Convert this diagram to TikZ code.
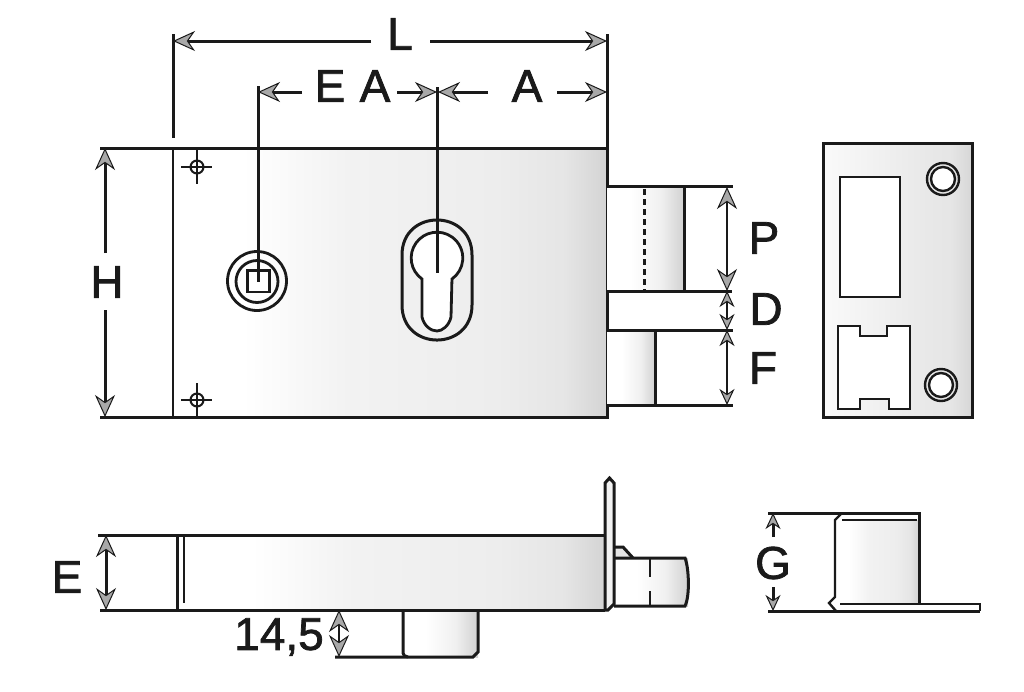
\documentclass[tikz,border=0pt]{standalone}
\usepackage{fontspec}
\setmainfont[FakeBold=1.6]{Liberation Sans}
\usetikzlibrary{arrows.meta}
\definecolor{ink}{HTML}{1A1A1A}
\definecolor{headgray}{HTML}{A8A8A8}
\pgfdeclarehorizontalshading{bodyshade}{100bp}{color(0bp)=(white); color(25bp)=(white); color(33bp)=(white); color(45bp)=(black!5); color(62bp)=(black!7); color(70bp)=(black!10); color(75bp)=(black!17); color(100bp)=(black!17)}
\pgfdeclarehorizontalshading{boltshade}{100bp}{color(0bp)=(white); color(25bp)=(white); color(40bp)=(white); color(60bp)=(black!6); color(75bp)=(black!18); color(100bp)=(black!18)}
\pgfdeclarehorizontalshading{plateshade}{100bp}{color(0bp)=(white); color(25bp)=(black!2); color(40bp)=(black!5); color(60bp)=(black!9); color(68bp)=(black!10); color(75bp)=(black!16); color(100bp)=(black!16)}
\tikzset{
  big/.tip={Stealth[length=22pt,width=20pt,inset=7pt,fill=headgray,line width=1pt]},
  small/.tip={Stealth[length=16pt,width=15pt,inset=5pt,fill=headgray,line width=1pt]},
  obj/.style={draw=ink,line width=3pt,line join=miter},
  fine/.style={draw=ink,line width=2.4pt},
  dimline/.style={draw=ink,line width=3pt},
  lab/.style={text=ink,font=\fontsize{46}{50}\selectfont,inner sep=0pt},
  hole/.style={draw=ink,line width=2.8pt,fill=white},
}
\begin{document}
\begin{tikzpicture}[x=1pt,y=-1pt]
\useasboundingbox (0,0) rectangle (1024,691);
% named points
\coordinate (LtickA) at (173,34); \coordinate (LtickB) at (173,138);
\coordinate (RtickA) at (607,34); \coordinate (RtickB) at (607,148);
\coordinate (Ltip) at (173,41); \coordinate (Ltail) at (371,41);
\coordinate (Rtip) at (607,41); \coordinate (Rtail) at (430,41);
\coordinate (EAlt) at (258,92); \coordinate (EAla) at (302,92);
\coordinate (EArt) at (437,92); \coordinate (EAra) at (397,92);
\coordinate (Alt) at (438,92); \coordinate (Ala) at (488,92);
\coordinate (Art) at (607,92); \coordinate (Ara) at (557,92);
\coordinate (KeyA) at (258.5,86); \coordinate (KeyB) at (258.5,282);
\coordinate (CylA) at (437,87); \coordinate (CylB) at (437,273);
\coordinate (Htop) at (105,148); \coordinate (Hup) at (105,253);
\coordinate (Hbot) at (105,417); \coordinate (Hdn) at (105,310);
% main body
\path[shading=bodyshade] (173,148) rectangle (607,417);
\draw[fine] (173,148) -- (173,417);
\draw[obj] (100,148) -- (607,148) -- (607,417) -- (100,417);
% bolts
\path[shading=boltshade] (607,186) rectangle (684,291);
\path[shading=boltshade] (607,330) rectangle (655,405);
\draw[obj] (607,186.5) -- (733,186.5);
\draw[obj] (607,291) -- (732,291);
\draw[obj] (684,186.5) -- (684,291);
\draw[obj] (607,330) -- (733,330);
\draw[obj] (607,405) -- (733,405);
\draw[obj] (655,330) -- (655,405);
\draw[draw=ink,line width=2.8pt,dash pattern=on 6pt off 4pt] (644.5,189) -- (644.5,291);
% crosshairs
\foreach \nm/\yy in {topc/167,botc/400}{
  \node[circle,draw=ink,line width=2pt,minimum size=13pt,inner sep=0pt] (\nm) at (197,\yy) {};
  \draw[fine] (181,\yy) -- (212,\yy);
  \draw[fine] (197,\yy-17) -- (197,\yy+17);
}
% key
\draw[hole,fill=none] (257,281) circle[radius=29.5];
\draw[hole,fill=none] (257,281.5) circle[radius=21];
\draw[hole] (247.5,270.5) rectangle (269.5,292);
% cylinder
\draw[obj] (402,255) .. controls (402,208.3) and (472,208.3) .. (472,255) -- (472,305) .. controls (472,351.7) and (402,351.7) .. (402,305) -- cycle;
\draw[hole] (422,279) arc[start angle=125.5,end angle=414.5,radius=25.8] -- (451,317) .. controls (449,326) and (442,331) .. (437,331) .. controls (431,331) and (424,326) .. (422,317) -- cycle;
% dimension lines top
\draw[dimline] (LtickA) -- (LtickB);
\draw[dimline] (RtickA) -- (RtickB);
\draw[dimline,-{big}] (Ltail) -- (Ltip);
\draw[dimline,-{big}] (Rtail) -- (Rtip);
\draw[dimline] (KeyA) -- (KeyB);
\draw[dimline] (CylA) -- (CylB);
\draw[dimline,-{big}] (EAla) -- (EAlt);
\draw[dimline,-{big}] (EAra) -- (EArt);
\draw[dimline,-{big}] (Ala) -- (Alt);
\draw[dimline,-{big}] (Ara) -- (Art);
\draw[dimline,-{big}] (Hup) -- (Htop);
\draw[dimline,-{big}] (Hdn) -- (Hbot);
\node[lab] (lblL) at (400,34) {L};
\node[lab] (lblE) at (330,86) {E};
\node[lab] (lblA) at (375,86) {A};
\node[lab] (lblB) at (527,86) {A};
\node[lab] (lblH) at (107,282) {H};
% right dims
\coordinate (Pa) at (727,187); \coordinate (Pb) at (727,291);
\coordinate (Fa) at (727,330); \coordinate (Fb) at (727,405);
\draw[dimline,line width=2.4pt,{big}-{big}] (Pa) -- (Pb);
\draw[dimline,line width=2.4pt,{small}-{small}] (Pb) -- (Fa);
\draw[dimline,line width=2.4pt,{small}-{small}] (Fa) -- (Fb);
\node[lab] (lblP) at (764,238) {P};
\node[lab] (lblD) at (766,309) {D};
\node[lab] (lblF) at (763,368) {F};
% strike plate
\draw[obj,shading=plateshade] (823.5,143.5) rectangle (972,417);
\draw[hole] (840,177) rectangle (900,297);
\draw[hole] (838,326) -- (860,326) -- (860,336) -- (887,336) -- (887,326) -- (910,326) -- (910,409) -- (889,409) -- (889,399) -- (860,399) -- (860,409) -- (838,409) -- cycle;
\foreach \nm/\xx/\yy in {ha/943/179,hb/941/385}{
  \node[circle,draw=ink,line width=2.4pt,minimum size=32pt,inner sep=0pt] (\nm o) at (\xx,\yy) {};
  \node[circle,draw=ink,line width=2.4pt,fill=white,minimum size=24pt,inner sep=0pt] (\nm i) at (\xx,\yy) {};
}
% side view
\path[shading=bodyshade] (184,535) rectangle (605,610);
\path[shading=boltshade] (614,558) rectangle (688,606);
\path[fill=black!10] (614,547) -- (623,547) -- (633,558) -- (614,558) -- cycle;
\path[shading=boltshade] (403,610) rectangle (478,657);
\draw[obj] (98,535) -- (605,535);
\draw[obj] (100,610) -- (605,610);
\draw[obj] (177.5,535) -- (177.5,610);
\draw[fine] (184,536) -- (184,603);
\draw[obj,fill=black!5] (605,610) -- (605,483) -- (609.5,478) -- (614,483) -- (614,604) -- (608,610) -- cycle;
\draw[obj] (614,547) -- (623,547) -- (633,558);
\draw[obj] (614,558) -- (685,558) .. controls (689,568) and (690,596) .. (685,606) -- (614,606);
\draw[fine] (650,558) -- (650,577);
\draw[fine] (650,591) -- (650,606);
% knob
\draw[obj] (403,610) -- (403,653) .. controls (403,655) and (405,657) .. (408,657);
\draw[obj] (335,657) -- (473,657) -- (478,652) -- (478,610);
\coordinate (Ea) at (106,535); \coordinate (Eb) at (106,610);
\draw[dimline,{big}-{big}] (Ea) -- (Eb);
\coordinate (Ka) at (339,610); \coordinate (Kb) at (339,657);
\draw[dimline,line width=2.4pt,{big}-{big}] (Ka) -- (Kb);
\node[lab] (lblEb) at (67,577) {E};
\node[lab] (lblK) at (279,637) {14,5};
% bracket side view
\path[shading=bodyshade] (836,520) rectangle (918,604);
\draw[obj] (768,513) -- (919,513) -- (919,604);
\draw[fine] (842,520) -- (917,520);
\draw[fine] (842,513) -- (835,520) -- (835,597) -- (829,603) -- (836,611);
\draw[fine] (840,604) -- (980,604) -- (980,611);
\draw[obj] (768,611) -- (980,611);
\coordinate (Ga) at (773,513); \coordinate (Gb) at (773,537);
\coordinate (Gc) at (773,611); \coordinate (Gd) at (773,587);
\draw[dimline,-{small}] (Gb) -- (Ga);
\draw[dimline,-{small}] (Gd) -- (Gc);
\node[lab] (lblG) at (773,563) {G};
\end{tikzpicture}
\end{document}
